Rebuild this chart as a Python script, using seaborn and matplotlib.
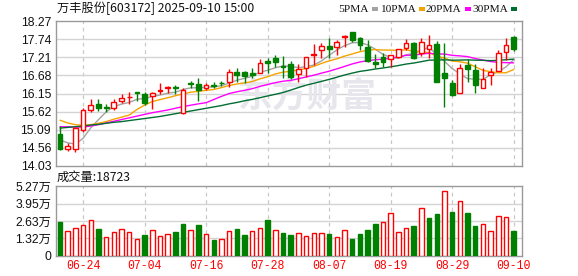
import numpy as np
import pandas as pd
import matplotlib
matplotlib.use("Agg")
import matplotlib.pyplot as plt
import seaborn as sns
from matplotlib.patches import Rectangle

# ---------------- data ----------------
dates = ["06-19", "06-20", "06-23", "06-24", "06-25", "06-26", "06-27", "06-30",
         "07-01", "07-02", "07-03", "07-04", "07-07", "07-08", "07-09", "07-10",
         "07-11", "07-14", "07-15", "07-16", "07-17", "07-18", "07-21", "07-22",
         "07-23", "07-24", "07-25", "07-28", "07-29", "07-30", "07-31", "08-01",
         "08-04", "08-05", "08-06", "08-07", "08-08", "08-11", "08-12", "08-13",
         "08-14", "08-15", "08-18", "08-19", "08-20", "08-21", "08-22", "08-25",
         "08-26", "08-27", "08-28", "08-29", "09-01", "09-02", "09-03", "09-04",
         "09-05", "09-08", "09-09", "09-10"]
opens = [14.98, 14.54, 14.54, 15.08, 15.67, 15.86, 15.76, 15.72, 15.93, 16.04,
         16.20, 16.14, 16.08, 16.22, 16.31, 16.34, 15.57, 16.45, 16.43, 16.32,
         16.41, 16.46, 16.50, 16.77, 16.79, 16.76, 16.76, 17.09, 17.20, 16.95,
         17.01, 16.71, 16.89, 17.28, 17.42, 17.53, 17.50, 17.82, 17.94, 17.77,
         17.52, 17.08, 17.23, 17.15, 17.23, 17.49, 17.62, 17.33, 17.45, 17.60,
         16.74, 16.45, 16.16, 16.99, 16.84, 16.30, 16.69, 16.82, 17.36, 17.80]
highs = [15.20, 14.69, 15.18, 15.74, 15.98, 15.98, 15.84, 15.98, 16.14, 16.19,
         16.21, 16.20, 16.19, 16.47, 16.37, 16.40, 16.30, 16.53, 16.60, 16.45,
         16.50, 16.52, 16.87, 16.89, 16.82, 16.89, 17.16, 17.18, 17.28, 17.26,
         17.10, 17.01, 17.21, 17.60, 17.62, 17.77, 17.72, 17.87, 17.94, 17.82,
         17.72, 17.30, 17.33, 17.28, 17.45, 17.75, 17.65, 17.79, 17.87, 17.70,
         17.62, 16.55, 17.01, 17.15, 17.01, 16.89, 16.91, 17.43, 17.77, 17.85]
lows = [14.49, 14.47, 14.43, 15.03, 15.60, 15.64, 15.62, 15.67, 15.88, 15.84,
        15.94, 15.81, 15.69, 16.14, 16.16, 16.14, 15.55, 16.30, 15.94, 16.25,
        16.30, 16.37, 16.35, 16.50, 16.47, 16.60, 16.74, 16.74, 16.94, 16.60,
        16.57, 16.50, 16.64, 16.99, 17.18, 17.18, 17.28, 17.52, 17.65, 17.43,
        17.08, 16.89, 16.94, 16.94, 17.18, 17.43, 17.15, 17.25, 17.18, 16.48,
        15.75, 16.09, 16.16, 16.48, 16.16, 16.30, 16.40, 16.82, 17.13, 17.40]
closes = [14.52, 14.61, 15.13, 15.67, 15.81, 15.72, 15.74, 15.91, 16.03, 16.06,
          16.17, 15.88, 16.18, 16.25, 16.33, 16.32, 16.27, 16.43, 16.25, 16.40,
          16.38, 16.45, 16.79, 16.69, 16.67, 16.69, 17.06, 17.05, 17.07, 16.93,
          16.63, 16.86, 17.21, 17.30, 17.53, 17.45, 17.65, 17.84, 17.72, 17.57,
          17.11, 17.01, 17.08, 17.28, 17.45, 17.62, 17.18, 17.65, 17.57, 16.48,
          16.60, 16.11, 16.89, 16.86, 16.40, 16.57, 16.79, 17.33, 17.57, 17.45]
volumes = [25800, 18800, 20800, 23300, 27100, 20300, 14300, 18100, 20300, 18100,
           12800, 15800, 19600, 15100, 16600, 18300, 24300, 19600, 23600, 16600,
           12300, 12800, 18800, 20300, 16100, 18800, 21100, 27300, 19600, 17600,
           15800, 17300, 15100, 17300, 17300, 16600, 14300, 19600, 13100, 16600,
           19600, 24300, 25600, 32400, 18100, 21100, 22600, 35900, 28600, 31900,
           48900, 33100, 41400, 32600, 22600, 24100, 18800, 30100, 29100, 18723]
prev_close = 15.00  # close of the session before the first bar

# MA values at the start of the window (history before window not shown)
ma5_head = [14.79, 14.71, 14.67, 14.84]
ma10_head = [15.37, 15.29, 15.24, 15.22, 15.24, 15.28, 15.33, 15.40, 15.46]
ma20_head = [15.18, 15.18, 15.17, 15.17, 15.20, 15.24, 15.29, 15.34, 15.39, 15.44,
             15.49, 15.54, 15.59, 15.63, 15.67, 15.72, 15.77, 15.81, 15.85]
ma30_head = [15.14, 15.16, 15.18, 15.20, 15.23, 15.25, 15.28, 15.31, 15.33, 15.36,
             15.39, 15.42, 15.45, 15.48, 15.52, 15.56, 15.60, 15.64, 15.68, 15.72,
             15.76, 15.80, 15.85, 15.89, 15.94, 15.98, 16.03, 16.08, 16.13]

price_ticks = [14.03, 14.56, 15.09, 15.62, 16.15, 16.68, 17.21, 17.74, 18.27]
vol_ticks = [0, 13200, 26300, 39500, 52700]
vol_tick_labels = ["0", "1.32万", "2.63万", "3.95万", "5.27万"]
date_ticks = ["06-24", "07-04", "07-16", "07-28", "08-07", "08-19", "08-29", "09-10"]
ma_names = ["5PMA", "10PMA", "20PMA", "30PMA"]
ma_colors = ["#a3a3a3", "#f5a300", "#ff00ff", "#006e32"]
title_text = "万丰股份[603172] 2025-09-10 15:00"
vol_title = "成交量:18723"
watermark = "东方财富"

# ---------------- style ----------------
sns.set_theme(style="white")
plt.rcParams["font.family"] = ["Liberation Sans", "Noto Sans CJK SC", "DejaVu Sans"]

RED = "#ff0000"
GREEN = "#008000"
GRID = "#d4d4d4"
FRAME = "#9a9a9a"

W, H = 578, 276
fig = plt.figure(figsize=(W / 100, H / 100), dpi=100)
fig.patch.set_facecolor("white")

def fx(px):
    return px / W

def fy(py):
    return 1 - py / H

ax = fig.add_axes([fx(56), fy(166), fx(522) - fx(56), fy(21.2) - fy(166)])
axv = fig.add_axes([fx(56), fy(256), fx(522) - fx(56), fy(186) - fy(256)])

n = len(dates)
x = np.arange(n)
o = np.array(opens); h = np.array(highs); l = np.array(lows); c = np.array(closes)
v = np.array(volumes)

# moving averages
cs = pd.Series(c)
def ma(win, head):
    m = cs.rolling(win).mean().to_numpy()
    m[:len(head)] = head
    return m
df = pd.DataFrame({"x": x,
                   "5PMA": ma(5, ma5_head),
                   "10PMA": ma(10, ma10_head),
                   "20PMA": ma(20, ma20_head),
                   "30PMA": ma(30, ma30_head)})
long_df = df.melt(id_vars="x", var_name="ma", value_name="val")

xmin, xmax = -0.52, 60.08
date_pos = [dates.index(d) for d in date_ticks]

for a in (ax, axv):
    a.set_facecolor("white")
    a.set_xlim(xmin, xmax)
    for s in a.spines.values():
        s.set_color(FRAME)
        s.set_linewidth(1.0)
    a.tick_params(length=0)
    for p in date_pos:
        a.axvline(p, color="#c8c8c8", lw=0.9, ls=(0, (3, 3)), zorder=0)

# --- main price panel ---
ax.set_ylim(price_ticks[0], price_ticks[-1])
for t in price_ticks[1:-1]:
    ax.axhline(t, color=GRID, lw=1.0, zorder=0)
ax.set_yticks(price_ticks)
ax.set_yticklabels([f"{t:.2f}" for t in price_ticks], fontsize=8.8, color="#111111")
ax.set_xticks([])

ax.text(0.54, 0.485, watermark, transform=ax.transAxes, ha="center", va="center",
        fontsize=25, fontweight="bold", color="#e6e6ec",
        family=["Noto Sans CJK SC"], zorder=0.5)

sns.lineplot(data=long_df, x="x", y="val", hue="ma", hue_order=ma_names,
             palette=ma_colors, ax=ax, legend=False, lw=1.0, zorder=2)

bw = 0.62
for i in range(n):
    up = c[i] > o[i] or (c[i] == o[i] and c[i] >= (c[i - 1] if i else prev_close))
    col = RED if up else GREEN
    ax.vlines(i, l[i], h[i], color=col, lw=1.0, zorder=3)
    lo, hi = min(o[i], c[i]), max(o[i], c[i])
    hgt = max(hi - lo, 0.012)
    ax.add_patch(Rectangle((i - bw / 2, lo), bw, hgt,
                           facecolor="white" if up else GREEN,
                           edgecolor=col, lw=1.0, zorder=4))
ax.set_xlabel(""); ax.set_ylabel("")

# --- volume panel ---
axv.set_ylim(0, vol_ticks[-1])
for t in vol_ticks[1:-1]:
    axv.axhline(t, color=GRID, lw=1.0, zorder=0)
axv.set_yticks(vol_ticks)
axv.set_yticklabels(vol_tick_labels, fontsize=8.8, color="#111111")
pc = np.concatenate([[prev_close], c[:-1]])
vol_up = c >= pc
vbw = 0.58
for i in range(n):
    if vol_up[i]:
        axv.bar(i, v[i], width=vbw, facecolor="white", edgecolor=RED, lw=1.0, zorder=3)
    else:
        axv.bar(i, v[i], width=vbw, facecolor=GREEN, edgecolor=GREEN, lw=1.0, zorder=3)
axv.set_xticks(date_pos)
axv.set_xticklabels(date_ticks, fontsize=8.3, color=RED, family=["Liberation Mono"])
axv.tick_params(axis="x", pad=3)

# --- texts ---
fig.text(fx(57), fy(8.5), title_text, fontsize=8.8, color="#111111", va="center", ha="left",
         family=["Noto Sans CJK SC", "DejaVu Sans"])
fig.text(fx(57), fy(177), vol_title, fontsize=8.8, color="#111111", va="center", ha="left",
         family=["Noto Sans CJK SC", "DejaVu Sans"])

renderer = fig.canvas.get_renderer()
leg_text_x = [338, 380, 426, 472]
for name, colr, tx in zip(ma_names, ma_colors, leg_text_x):
    t = fig.text(fx(tx), fy(9), name, fontsize=8.2, color="#111111", va="center", ha="left",
                 family=["Liberation Serif"])
    bb = t.get_window_extent(renderer=renderer)
    sx = bb.x1 + 3
    fig.patches.append(Rectangle((sx / W, fy(10.5)), 6 / W, fy(7) - fy(10.5),
                                 transform=fig.transFigure, facecolor=colr,
                                 edgecolor="none", figure=fig))

fig.savefig("out.png", dpi=100, facecolor="white")
